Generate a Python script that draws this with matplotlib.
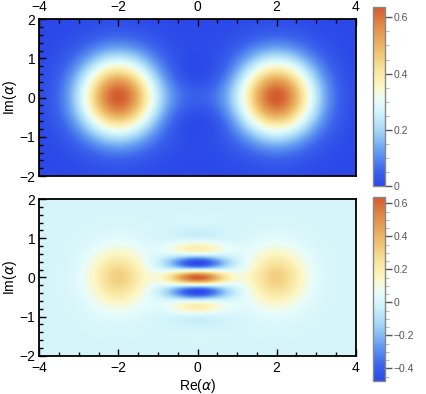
import numpy as np
import matplotlib.pyplot as plt
from matplotlib.colors import LinearSegmentedColormap
from matplotlib.ticker import MultipleLocator

# cat state parameters
alpha = 2.0
re_lim = [-4, 4]
im_lim = [-2, 2]
q_range = [0.0, 0.636]
w_range = [-0.476, 0.636]
x_ticks = [-4, -2, 0, 2, 4]
y_ticks = [-2, -1, 0, 1, 2]
q_ticks = [0, 0.2, 0.4, 0.6]
w_ticks = [-0.4, -0.2, 0, 0.2, 0.4, 0.6]

# temperature-like colour map
cmap_pos = [0.0, 0.08, 0.18, 0.30, 0.40, 0.48, 0.56, 0.66, 0.78, 0.90, 1.0]
cmap_col = ['#2b48e8', '#3a62ec', '#5f96f0', '#9fd3f6', '#cdf2fa', '#e8fdfc',
            '#fdf7c4', '#f7e29a', '#ecb865', '#e08a48', '#d35c30']
cmap = LinearSegmentedColormap.from_list('temp', list(zip(cmap_pos, cmap_col)))

n = 400
re = np.linspace(re_lim[0], re_lim[1], 2 * n)
im = np.linspace(im_lim[0], im_lim[1], n)
X, Y = np.meshgrid(re, im)
B = X + 1j * Y
norm2 = 1.0 / (2 * (1 + np.exp(-2 * alpha**2)))

# Q function (even cat), scaled as in the reference
Q = (16 / np.pi) * norm2 * np.exp(-abs(B)**2 - alpha**2) * abs(np.cosh(alpha * np.conj(B)))**2
# Wigner function (even cat)
W = (2 / np.pi) * norm2 * (np.exp(-2 * abs(B - alpha)**2) + np.exp(-2 * abs(B + alpha)**2)
                            + 2 * np.exp(-2 * abs(B)**2) * np.cos(4 * alpha * Y))

plt.rcParams['font.family'] = ['Liberation Sans', 'DejaVu Sans']
plt.rcParams['mathtext.fontset'] = 'dejavusans'
fig = plt.figure(figsize=(4.26, 3.94), dpi=100)

ax1 = fig.add_axes([0.0923, 0.553, 0.7427, 0.3985])
ax2 = fig.add_axes([0.0923, 0.0972, 0.7427, 0.3977])
cax1 = fig.add_axes([0.8756, 0.528, 0.0289, 0.4536])
cax2 = fig.add_axes([0.8756, 0.033, 0.0289, 0.4662])

im1 = ax1.imshow(Q, extent=re_lim + im_lim, origin='lower', cmap=cmap,
                 vmin=q_range[0], vmax=q_range[1], aspect='auto', interpolation='bilinear')
im2 = ax2.imshow(W, extent=re_lim + im_lim, origin='lower', cmap=cmap,
                 vmin=w_range[0], vmax=w_range[1], aspect='auto', interpolation='bilinear')

for ax in (ax1, ax2):
    ax.set_xlim(re_lim)
    ax.set_ylim(im_lim)
    ax.set_xticks(x_ticks)
    ax.set_yticks(y_ticks)
    ax.set_xticklabels(['\u22124', '\u22122', '0', '2', '4'])
    ax.set_yticklabels(['\u22122', '\u22121', '0', '1', '2'])
    ax.xaxis.set_minor_locator(MultipleLocator(0.5))
    ax.yaxis.set_minor_locator(MultipleLocator(0.2))
    ax.tick_params(which='both', direction='in', labelsize=10, width=1)
    ax.tick_params(axis='x', pad=4)
    ax.tick_params(axis='y', pad=3)
    ax.tick_params(which='major', length=5)
    ax.tick_params(which='minor', length=3)
    for s in ax.spines.values():
        s.set_linewidth(1.3)
    ax.set_ylabel('Im($\\alpha$)', fontsize=10, labelpad=0)

ax1.tick_params(which='both', top=True, bottom=False, labeltop=True, labelbottom=False,
                left=True, right=False)
ax2.tick_params(which='both', top=False, bottom=True, left=True, right=False)
ax2.set_xlabel('Re($\\alpha$)', fontsize=10, labelpad=1)

for cax, img, ticks in ((cax1, im1, q_ticks), (cax2, im2, w_ticks)):
    cb = fig.colorbar(img, cax=cax, ticks=ticks)
    cb.ax.set_yticklabels([('\u2212' + str(abs(t))) if t < 0 else str(t) for t in ticks])
    cb.ax.yaxis.set_minor_locator(MultipleLocator(0.05))
    cb.outline.set_edgecolor('#888888')
    cb.outline.set_linewidth(1)
    cb.ax.tick_params(which='major', length=5, width=1, color='#555555',
                      labelsize=7.5, labelcolor='#555555', pad=1)
    cb.ax.tick_params(which='minor', length=3, width=0.8, color='#bbbbbb')

fig.savefig('out.png', dpi=100)
